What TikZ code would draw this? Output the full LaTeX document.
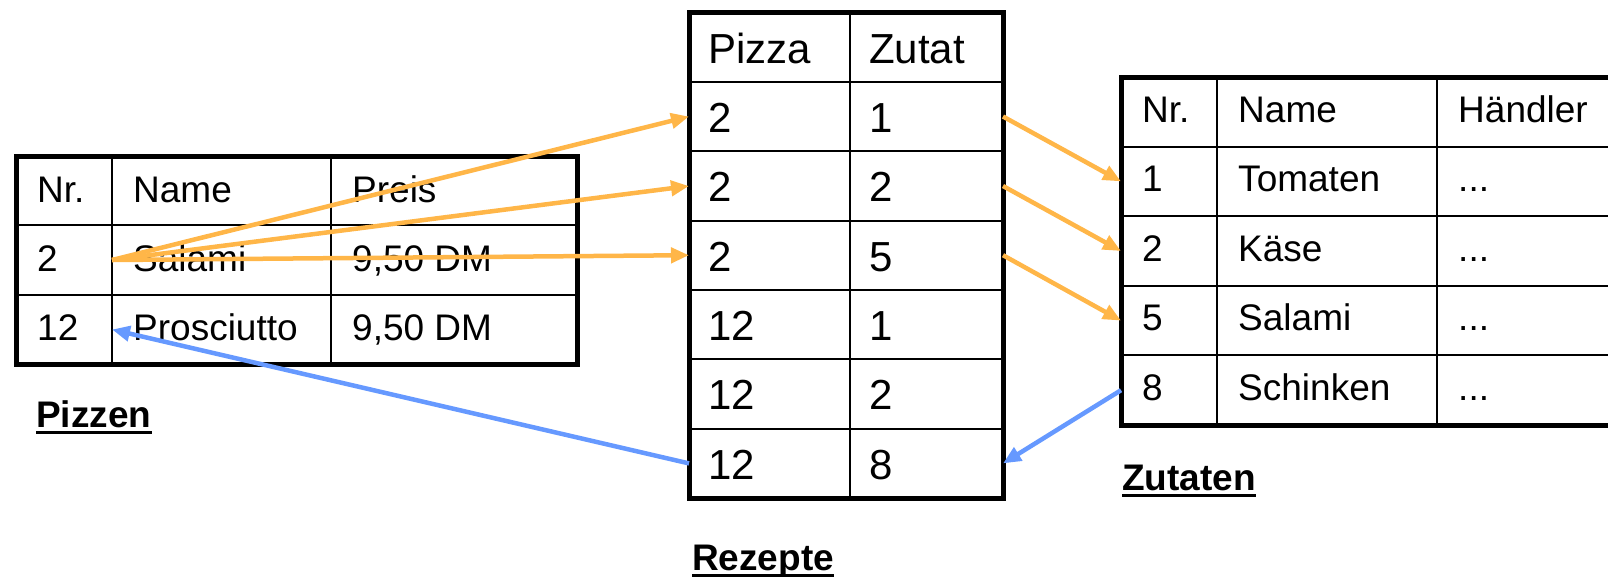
\documentclass[tikz,border=0pt]{standalone}
\usepackage{fontspec}
\setmainfont{Liberation Sans}
\usetikzlibrary{arrows.meta}
\definecolor{arrorange}{RGB}{255,182,72}
\definecolor{arrblue}{RGB}{102,153,255}
\begin{document}
\begin{tikzpicture}[x=1pt,y=-1pt,
  gridline/.style={line width=2pt,black},
  frameline/.style={line width=5pt,black},
  cellsm/.style={anchor=base west,inner sep=0pt,font=\fontsize{37}{40}\selectfont},
  cellbig/.style={anchor=base west,inner sep=0pt,font=\fontsize{42}{46}\selectfont},
  lbl/.style={anchor=base west,inner sep=0pt,font=\fontsize{37}{40}\selectfont\bfseries},
  ulline/.style={line width=3pt,black},
  link/.style={line width=4.5pt,-{Triangle[length=18pt,width=15pt]}},
  orangelink/.style={link,color=arrorange},
  bluelink/.style={link,color=arrblue}]
\useasboundingbox (0,0) rectangle (1608,576);
\clip (0,0) rectangle (1608,576);

% ---------------- Pizzen ----------------
\draw[gridline] (16,225.3) -- (577,225.3) (16,294.7) -- (577,294.7)
  (112,156) -- (112,364) (331,156) -- (331,364);
\draw[frameline] (16,156) rectangle (577,364);
\node[cellsm] (pz-h1) at (37,202) {Nr.};
\node[cellsm] (pz-h2) at (133,202) {Name};
\node[cellsm] (pz-h3) at (352,202) {Preis};
\node[cellsm] (pz-a1) at (37,271.3) {2};
\node[cellsm] (pz-a2) at (133,271.3) {Salami};
\node[cellsm] (pz-a3) at (352,271.3) {9,50 DM};
\node[cellsm] (pz-b1) at (37,340.7) {12};
\node[cellsm] (pz-b2) at (133,340.7) {Prosciutto};
\node[cellsm] (pz-b3) at (352,340.7) {9,50 DM};
\node[lbl] (pz-lbl) at (36,427) {Pizzen};
\draw[ulline] ([yshift=-5.5pt]pz-lbl.base west) -- ([yshift=-5.5pt]pz-lbl.base east);

% ---------------- Rezepte ----------------
\draw[gridline] (689,81.9) -- (1003,81.9) (689,151.2) -- (1003,151.2)
  (689,220.6) -- (1003,220.6) (689,289.9) -- (1003,289.9)
  (689,359.3) -- (1003,359.3) (689,428.7) -- (1003,428.7)
  (850,12.5) -- (850,498);
\draw[frameline] (689,12.5) rectangle (1003,498);
\node[cellbig] (rz-h1) at (708,63) {Pizza};
\node[cellbig] (rz-h2) at (869,63) {Zutat};
\node[cellbig] (rz-r2a) at (708,132.4) {2};
\node[cellbig] (rz-r2b) at (869,132.4) {1};
\node[cellbig] (rz-r3a) at (708,201.7) {2};
\node[cellbig] (rz-r3b) at (869,201.7) {2};
\node[cellbig] (rz-r4a) at (708,271.1) {2};
\node[cellbig] (rz-r4b) at (869,271.1) {5};
\node[cellbig] (rz-r5a) at (708,340.4) {12};
\node[cellbig] (rz-r5b) at (869,340.4) {1};
\node[cellbig] (rz-r6a) at (708,409.8) {12};
\node[cellbig] (rz-r6b) at (869,409.8) {2};
\node[cellbig] (rz-r7a) at (708,479.2) {12};
\node[cellbig] (rz-r7b) at (869,479.2) {8};
\node[lbl] (rz-lbl) at (692,570.5) {Rezepte};
\draw[ulline] ([yshift=-4.5pt]rz-lbl.base west) -- ([yshift=-4.5pt]rz-lbl.base east);

% ---------------- Zutaten ----------------
\draw[gridline] (1121,146.6) -- (1683,146.6) (1121,216.2) -- (1683,216.2)
  (1121,285.8) -- (1683,285.8) (1121,355.4) -- (1683,355.4)
  (1217,77) -- (1217,425) (1437,77) -- (1437,425);
\draw[frameline] (1121,77) rectangle (1683,425);
\node[cellsm] (zt-h1) at (1142,122) {Nr.};
\node[cellsm] (zt-h2) at (1238,122) {Name};
\node[cellsm] (zt-h3) at (1458,122) {Händler};
\node[cellsm] (zt-a1) at (1142,191.6) {1};
\node[cellsm] (zt-a2) at (1238,191.6) {Tomaten};
\node[cellsm] (zt-a3) at (1458,191.6) {...};
\node[cellsm] (zt-b1) at (1142,261.2) {2};
\node[cellsm] (zt-b2) at (1238,261.2) {Käse};
\node[cellsm] (zt-b3) at (1458,261.2) {...};
\node[cellsm] (zt-c1) at (1142,330.8) {5};
\node[cellsm] (zt-c2) at (1238,330.8) {Salami};
\node[cellsm] (zt-c3) at (1458,330.8) {...};
\node[cellsm] (zt-d1) at (1142,400.4) {8};
\node[cellsm] (zt-d2) at (1238,400.4) {Schinken};
\node[cellsm] (zt-d3) at (1458,400.4) {...};
\node[lbl] (zt-lbl) at (1122,490) {Zutaten};
\draw[ulline] ([yshift=-5.5pt]zt-lbl.base west) -- ([yshift=-5.5pt]zt-lbl.base east);

% ---------------- connector end points ----------------
\coordinate (pzS2) at (112,260);
\coordinate (pzS12) at (112,329.5);
\coordinate (rzL2) at (689,116.5);
\coordinate (rzL3) at (689,186);
\coordinate (rzL4) at (689,255.2);
\coordinate (rzL7) at (689,463.4);
\coordinate (rzR2) at (1003,116.5);
\coordinate (rzR3) at (1003,186);
\coordinate (rzR4) at (1003,255.2);
\coordinate (rzR7) at (1003,463.4);
\coordinate (ztL2) at (1121,181.4);
\coordinate (ztL3) at (1121,251);
\coordinate (ztL4) at (1121,320.6);
\coordinate (ztL5) at (1121,390.2);

% ---------------- connectors ----------------
\draw[orangelink] (pzS2) -- (rzL2);
\draw[orangelink] (pzS2) -- (rzL3);
\draw[orangelink] (pzS2) -- (rzL4);
\draw[orangelink] (rzR2) -- (ztL2);
\draw[orangelink] (rzR3) -- (ztL3);
\draw[orangelink] (rzR4) -- (ztL4);
\draw[bluelink] (ztL5) -- (rzR7);
\draw[bluelink] (rzL7) -- (pzS12);
\end{tikzpicture}
\end{document}
